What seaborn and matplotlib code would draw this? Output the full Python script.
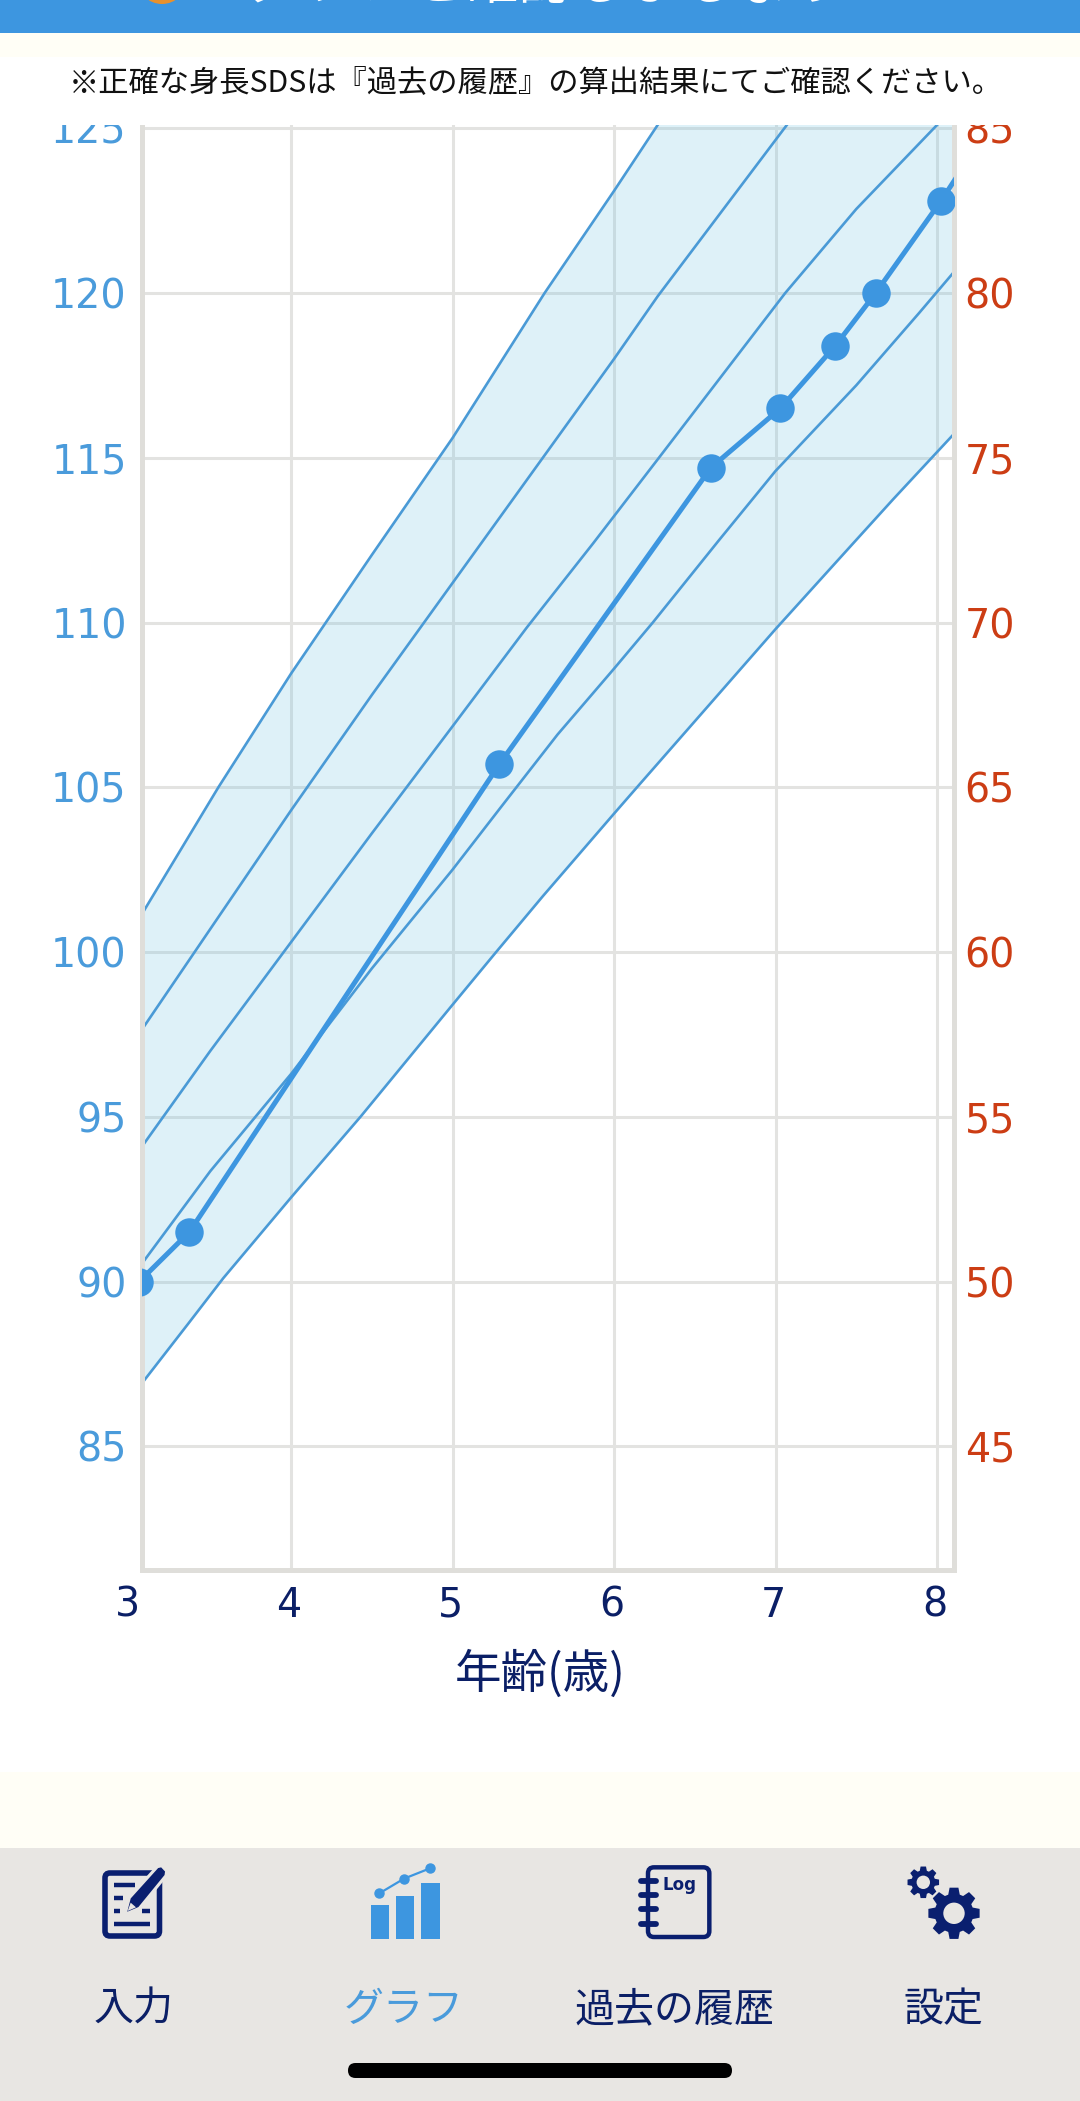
import numpy as np
import pandas as pd
import seaborn as sns
import matplotlib.pyplot as plt
from matplotlib.patches import Rectangle, FancyBboxPatch, Polygon, Circle

# measured points (age, height)
age_points = [3.06, 3.37, 5.29, 6.60, 7.03, 7.37, 7.62, 8.025, 8.40]
height_points = [90.0, 91.5, 105.7, 114.7, 116.5, 118.4, 120.0, 122.8, 125.6]

# growth curves (the last values run off the chart)
age_p2 = [3.07, 3.55, 4.00, 4.50, 5.00, 5.57, 6.00, 6.27, 8.15]
sd_p2 = [101.1, 105.0, 108.45, 112.05, 115.6, 120.0, 123.1, 125.1, 139.0]
age_p1 = [3.07, 3.50, 4.00, 4.50, 5.00, 5.50, 6.00, 6.27, 7.07, 8.15]
sd_p1 = [97.6, 100.7, 104.3, 107.8, 111.2, 114.6, 118.0, 119.9, 125.1, 132.0]
age_0 = [3.07, 3.50, 4.00, 4.50, 5.00, 5.46, 5.87, 6.27, 7.06, 7.50, 8.00, 8.15]
sd_0 = [94.05, 97.0, 100.3, 103.6, 106.85, 109.85, 112.4, 114.95, 120.0, 122.55, 125.1, 126.0]
age_m1 = [3.07, 3.50, 4.00, 4.50, 5.00, 5.30, 5.65, 6.00, 6.24, 6.65, 7.00, 7.50, 7.89, 8.15]
sd_m1 = [90.5, 93.35, 96.3, 99.5, 102.5, 104.4, 106.6, 108.6, 110.0, 112.5, 114.6, 117.2, 119.4, 120.9]
age_m2 = [3.07, 3.36, 3.58, 4.00, 4.43, 5.00, 5.27, 5.56, 6.00, 6.16, 7.00, 7.48, 7.73, 8.10, 8.15]
sd_m2 = [86.87, 88.7, 90.1, 92.55, 95.0, 98.4, 100.0, 101.7, 104.2, 105.1, 109.8, 112.4, 113.75, 115.7, 116.0]

x_ticks = [3, 4, 5, 6, 7, 8]
height_ticks = [85, 90, 95, 100, 105, 110, 115, 120, 125]
weight_ticks = [45, 50, 55, 60, 65, 70, 75, 80, 85]

BLUE = '#3D96E0'
LINE = '#4A9AD6'
NAVY = '#0B1F66'
ICON = '#0A1F6F'
TAB = '#E8E6E3'
CREAM = '#FFFEF6'
W, H = 1080, 2101
JP = 'Noto Sans CJK JP'

sns.set_style('white')
plt.rcParams['font.family'] = ['DejaVu Sans']

fig = plt.figure(figsize=(W / 100, H / 100), dpi=100, facecolor='white')

# chart axes, positioned in pixels
left, right, top, bottom = 142, 953.5, 125, 1569.5
ax = fig.add_axes([left / W, 1 - bottom / H, (right - left) / W, (bottom - top) / H])
ax.set_facecolor('white')
ax.grid(True, color='#E3E3E1', linewidth=2.2)
ax.set_axisbelow(True)

ax.fill(age_p2 + age_m2[::-1], sd_p2 + sd_m2[::-1], color='#6CC3E3', alpha=0.22, linewidth=0, zorder=1.5)
for xs, ys in [(age_p2, sd_p2), (age_p1, sd_p1), (age_0, sd_0), (age_m1, sd_m1), (age_m2, sd_m2)]:
    curve = pd.DataFrame({'age': xs, 'height': ys})
    sns.lineplot(data=curve, x='age', y='height', ax=ax, sort=False, estimator=None,
                 color=LINE, linewidth=1.9, legend=False, zorder=2)

points = pd.DataFrame({'age': age_points, 'height': height_points})
sns.lineplot(data=points, x='age', y='height', ax=ax, sort=False, estimator=None,
             color=BLUE, linewidth=3.6, legend=False, zorder=3)
sns.scatterplot(data=points, x='age', y='height', ax=ax, s=420, color=BLUE, linewidth=0,
                legend=False, zorder=4)

ax.set_xticks(x_ticks)
ax.set_yticks(height_ticks)
ax.set_xlim(3.077, 8.102)
ax.set_ylim(81.26, 125.1)
ax.set_xticklabels([])
ax.set_xlabel('')
ax.set_ylabel('')
ax.tick_params(axis='y', length=0, pad=11, labelsize=28.5, labelcolor='#4A9BDB')
ax.tick_params(axis='x', length=0)
for s in ['left', 'right', 'bottom']:
    ax.spines[s].set_color('#DFDEDA')
    ax.spines[s].set_linewidth(3.6)
ax.spines['top'].set_visible(False)

# the "3" sits left of the visible range, so the x labels are placed by hand
for t in x_ticks:
    ax.annotate(str(t), xy=(t, 0), xycoords=('data', 'axes fraction'), xytext=(-1.5, -26),
                textcoords='offset points', ha='center', va='center', fontsize=28.5,
                color=NAVY, annotation_clip=False)
ax.text(0.4904, -0.0725, '年齢(歳)', transform=ax.transAxes, ha='center', va='center',
        fontsize=33.5, color=NAVY, family=JP)

ax2 = ax.twinx()
ax2.set_ylim(81.26 - 40, 125.1 - 40)
ax2.set_yticks(weight_ticks)
ax2.tick_params(axis='y', length=0, pad=8, labelsize=28.5, labelcolor='#CC3D14')
ax2.grid(False)
for s in ax2.spines.values():
    s.set_visible(False)

# app chrome drawn in pixel coordinates on top of the chart
ui = fig.add_axes([0, 0, 1, 1], zorder=5)
ui.set_xlim(0, W)
ui.set_ylim(H, 0)
ui.axis('off')
ui.patch.set_alpha(0)

ui.add_patch(Rectangle((0, 57), W, 68, color='white', lw=0))
ui.add_patch(Rectangle((0, 33), W, 24, color=CREAM, lw=0))
ui.add_patch(Rectangle((0, 0), W, 33, color=BLUE, lw=0))
ui.add_patch(Circle((162, -21), 25, color='#E8912D', lw=0))
ui.text(547, -17, 'グラフを確認しましょう', ha='center', va='center', fontsize=39.5, color='white', family=JP)
ui.text(536, 83, '※正確な身長SDSは『過去の履歴』の算出結果にてご確認ください。', ha='center', va='center',
        fontsize=21.8, color='#111111', family=JP)

ui.add_patch(Rectangle((0, 1772), W, 76, color=CREAM, lw=0))
ui.add_patch(Rectangle((0, 1848), W, H - 1848, color=TAB, lw=0))
ui.add_patch(FancyBboxPatch((348, 2063), 384, 15, boxstyle='round,pad=0,rounding_size=7.5', color='black', lw=0))

for label, x, c in [('入力', 134, NAVY), ('グラフ', 404, '#4A9BDB'), ('過去の履歴', 675, NAVY), ('設定', 943.5, NAVY)]:
    ui.text(x, 2010, label, ha='center', va='center', fontsize=28.8, color=c, family=JP)


def z1(pts):
    return [(80 + a / 3, 1855 + b / 3) for a, b in pts]


def z2(pts):
    return [(620 + a / 3, 1855 + b / 3) for a, b in pts]


# input icon
ui.add_patch(FancyBboxPatch((105, 1873), 54.5, 63, boxstyle='round,pad=0,rounding_size=5',
                            fc='none', ec=ICON, lw=4))
for ya, xa, xb in [(90, 103, 165), (128, 103, 130), (168, 103, 120), (168, 185, 210), (208, 103, 210)]:
    (x0, y0), (x1, y1) = z1([(xa, ya), (xb, ya)])
    ui.plot([x0, x1], [y0, y1], color=ICON, lw=3.2, solid_capstyle='butt')
ui.add_patch(Polygon(z1([(135, 178), (148, 128), (232, 35), (245, 32), (260, 48), (258, 62), (178, 160)]),
                     fc=ICON, ec=TAB, lw=2.2, joinstyle='round'))
ui.add_patch(Polygon(z1([(143, 168), (152, 143), (168, 157)]), fc=TAB, lw=0))

# graph icon
for xa, xb, ya in [(872, 927, 150), (948, 1003, 122), (1024, 1079, 83)]:
    (x0, y0), (x1, y1) = z1([(xa, ya), (xb, 252)])
    ui.add_patch(Rectangle((x0, y0), x1 - x0, y1 - y0, color=BLUE, lw=0))
trend = np.array(z1([(898, 115), (972, 71), (1050, 40)]))
ui.plot(trend[:, 0], trend[:, 1], color=BLUE, lw=1.6, marker='o', markersize=6.5)

# log icon
(x0, y0), (x1, y1) = z2([(84, 37), (268, 246)])
ui.add_patch(FancyBboxPatch((x0, y0), x1 - x0, y1 - y0, boxstyle='round,pad=0,rounding_size=6',
                            fc='none', ec=ICON, lw=3.2))
for ya in [77, 120, 163, 207]:
    (x0, y0), (x1, y1) = z2([(62, ya), (108, ya)])
    ui.plot([x0, x1], [y0, y1], color=ICON, lw=4.2, solid_capstyle='round')
ui.text(680, 1885, 'Log', ha='center', va='center', fontsize=12, fontweight='bold', color=ICON)


def gear(cx, cy, r_out, r_in, r_hole):
    verts = []
    for i in range(8):
        a = i * np.pi / 4
        for da, r in [(-0.30, r_in), (-0.17, r_out), (0.17, r_out), (0.30, r_in)]:
            verts.append((cx + r * np.cos(a + da), cy + r * np.sin(a + da)))
    ui.add_patch(Polygon(verts, fc=ICON, lw=0))
    ui.add_patch(Circle((cx, cy), r_hole, fc=TAB, lw=0))


gear(923.3, 1882.3, 16, 12, 6.7)
gear(954, 1913.3, 26, 19.5, 10.7)

fig.savefig('out.png', dpi=100)
